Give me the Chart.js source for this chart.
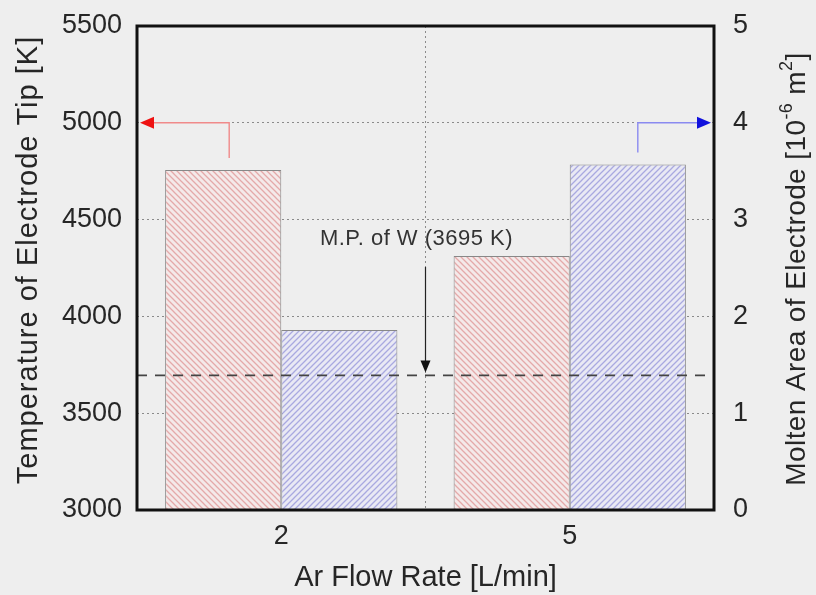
<!DOCTYPE html>
<html>
<head>
<meta charset="utf-8">
<script src="https://cdn.jsdelivr.net/npm/chart.js@4/dist/chart.umd.min.js"></script>
<style>
  html, body { margin: 0; padding: 0; background: #eeeeee; }
  canvas { display: block; }
</style>
</head>
<body>
<canvas id="chart" width="816" height="595"></canvas>
<script>
// Ar flow rate categories and the two measured quantities
const flowRates = ['2', '5'];
const tipTemperature = [4756, 4312];   // K (left axis)
const moltenArea = [1.86, 3.57];       // 10^-6 m^2 (right axis)
const tempTicks = [3000, 3500, 4000, 4500, 5000, 5500];
const areaTicks = [0, 1, 2, 3, 4, 5];
const meltingPointW = 3695;            // K, tungsten melting point

const FONT = '"Liberation Sans", Arial, Helvetica, sans-serif';
const TEXT = '#262626';

function hatch(bg, fg, dir) {
  const s = 6;
  const c = document.createElement('canvas');
  c.width = s; c.height = s;
  const g = c.getContext('2d');
  g.fillStyle = bg; g.fillRect(0, 0, s, s);
  g.strokeStyle = fg; g.lineWidth = 1.3;
  g.beginPath();
  if (dir === 'back') {
    g.moveTo(-1, -1); g.lineTo(s + 1, s + 1);
    g.moveTo(-1, s - 1); g.lineTo(1, s + 1);
    g.moveTo(s - 1, -1); g.lineTo(s + 1, 1);
  } else {
    g.moveTo(-1, s + 1); g.lineTo(s + 1, -1);
    g.moveTo(-1, 1); g.lineTo(1, -1);
    g.moveTo(s - 1, s + 1); g.lineTo(s + 1, s - 1);
  }
  g.stroke();
  return g.createPattern(c, 'repeat');
}

const redHatch = hatch('#f4e9e9', '#e4a9a9', 'back');
const blueHatch = hatch('#e9e9f4', '#a9a9e0', 'fwd');

function arrowHead(ctx, tipX, tipY, dx, dy, len, half, color) {
  const bx = tipX - dx * len, by = tipY - dy * len;
  ctx.beginPath();
  ctx.moveTo(tipX, tipY);
  ctx.lineTo(bx - dy * half, by + dx * half);
  ctx.lineTo(bx + dy * half, by - dx * half);
  ctx.closePath();
  ctx.fillStyle = color;
  ctx.fill();
}

// draws a rotated (bottom-to-top) title made of runs: [text, font, baseline shift]
function verticalTitle(ctx, parts, cx, cy, spacing) {
  ctx.save();
  ctx.letterSpacing = spacing;
  let total = 0;
  parts.forEach(p => { ctx.font = p[1]; total += ctx.measureText(p[0]).width; });
  ctx.translate(cx, cy);
  ctx.rotate(-Math.PI / 2);
  ctx.fillStyle = TEXT;
  ctx.textAlign = 'left';
  ctx.textBaseline = 'middle';
  let x = -total / 2;
  parts.forEach(p => {
    ctx.font = p[1];
    ctx.fillText(p[0], x, p[2]);
    x += ctx.measureText(p[0]).width;
  });
  ctx.restore();
}

const overlay = {
  id: 'overlay',
  afterDatasetsDraw(chart) {
    const { ctx, chartArea: a, scales } = chart;
    const yT = scales.yTemp, yA = scales.yArea, x = scales.x;
    ctx.save();

    // melting point of tungsten
    const yMp = yT.getPixelForValue(meltingPointW);
    ctx.strokeStyle = '#444';
    ctx.lineWidth = 1.7;
    ctx.setLineDash([10, 8]);
    ctx.beginPath();
    ctx.moveTo(a.left, yMp); ctx.lineTo(a.right, yMp);
    ctx.stroke();
    ctx.setLineDash([]);

    const xMid = (x.getPixelForValue(0) + x.getPixelForValue(1)) / 2;
    ctx.strokeStyle = '#222';
    ctx.lineWidth = 1.2;
    ctx.beginPath();
    ctx.moveTo(xMid, yT.getPixelForValue(4255));
    ctx.lineTo(xMid, yMp - 12);
    ctx.stroke();
    arrowHead(ctx, xMid, yMp - 3, 0, 1, 12, 5, '#111');

    ctx.letterSpacing = '0.5px';
    ctx.font = '22px ' + FONT;
    ctx.fillStyle = '#333';
    ctx.textAlign = 'center';
    ctx.textBaseline = 'middle';
    ctx.fillText('M.P. of W (3695 K)', xMid - 9, yT.getPixelForValue(4400));
    ctx.letterSpacing = '0px';

    // series pointers toward their axes
    const redBar = chart.getDatasetMeta(0).data[0];
    const yRef = yT.getPixelForValue(5000);
    const rx = redBar.x + 6;
    ctx.strokeStyle = '#f08a8a';
    ctx.lineWidth = 1.4;
    ctx.beginPath();
    ctx.moveTo(rx, redBar.y - 12);
    ctx.lineTo(rx, yRef);
    ctx.lineTo(a.left + 14, yRef);
    ctx.stroke();
    arrowHead(ctx, a.left + 3, yRef, -1, 0, 14, 6, '#ee1111');

    const blueBar = chart.getDatasetMeta(1).data[1];
    const bx = blueBar.x + 10;
    const yRefA = yA.getPixelForValue(4);
    ctx.strokeStyle = '#8a8af0';
    ctx.beginPath();
    ctx.moveTo(bx, blueBar.y - 12);
    ctx.lineTo(bx, yRefA);
    ctx.lineTo(a.right - 14, yRefA);
    ctx.stroke();
    arrowHead(ctx, a.right - 3, yRefA, 1, 0, 14, 6, '#1111dd');

    // plot frame
    ctx.strokeStyle = '#111';
    ctx.lineWidth = 3;
    ctx.strokeRect(a.left, a.top, a.right - a.left, a.bottom - a.top);
    ctx.restore();

    // axis titles
    const midY = (a.top + a.bottom) / 2;
    verticalTitle(ctx, [['Temperature of Electrode Tip [K]', '29px ' + FONT, 0]], 29, midY - 8, '1px');
    const big = '28px ' + FONT, small = '18px ' + FONT;
    verticalTitle(ctx, [
      ['Molten Area of Electrode [10', big, 0],
      ['-6', small, -10],
      [' m', big, 0],
      ['2', small, -10],
      [']', big, 0]
    ], 797, midY + 1, '0.4px');
  }
};

const plain = v => String(v);
function fixY(width) {
  return s => { s.width = width; s.paddingTop = 0; s.paddingBottom = 0; };
}

new Chart(document.getElementById('chart'), {
  type: 'bar',
  data: {
    labels: flowRates,
    datasets: [
      {
        label: 'Temperature of Electrode Tip',
        data: tipTemperature,
        yAxisID: 'yTemp',
        backgroundColor: redHatch,
        borderColor: 'rgba(110,110,110,0.8)',
        borderWidth: 1,
        borderSkipped: 'bottom'
      },
      {
        label: 'Molten Area of Electrode',
        data: moltenArea,
        yAxisID: 'yArea',
        backgroundColor: blueHatch,
        borderColor: 'rgba(110,110,110,0.8)',
        borderWidth: 1,
        borderSkipped: 'bottom'
      }
    ]
  },
  options: {
    responsive: false,
    animation: false,
    devicePixelRatio: 1,
    layout: { padding: { top: 26, left: 0, right: 0, bottom: 0 } },
    plugins: { legend: { display: false }, tooltip: { enabled: false } },
    datasets: { bar: { categoryPercentage: 0.805, barPercentage: 1.0 } },
    scales: {
      x: {
        offset: true,
        grid: { offset: true, color: '#8a8a8a', lineWidth: 1, drawTicks: false },
        border: { display: false, dash: [2, 3] },
        ticks: { color: TEXT, font: { family: FONT, size: 27 }, padding: 10 },
        title: { display: true, text: 'Ar Flow Rate [L/min]', color: TEXT, font: { family: FONT, size: 29 }, padding: { top: 0, bottom: 0 } },
        afterFit(s) { s.height = 85; s.paddingLeft = 0; s.paddingRight = 0; }
      },
      yTemp: {
        position: 'left',
        min: 3000, max: 5500,
        afterBuildTicks(s) { s.ticks = tempTicks.map(v => ({ value: v })); },
        grid: { color: '#8a8a8a', lineWidth: 1, drawTicks: false },
        border: { display: false, dash: [2, 3] },
        ticks: { color: TEXT, font: { family: FONT, size: 27 }, padding: 15, callback: plain },
        afterFit: fixY(137)
      },
      yArea: {
        position: 'right',
        min: 0, max: 5,
        afterBuildTicks(s) { s.ticks = areaTicks.map(v => ({ value: v })); },
        grid: { drawOnChartArea: false, drawTicks: false },
        border: { display: false },
        ticks: { color: TEXT, font: { family: FONT, size: 27 }, padding: 19, callback: plain },
        afterFit: fixY(102)
      }
    }
  },
  plugins: [overlay]
});
</script>
</body>
</html>
